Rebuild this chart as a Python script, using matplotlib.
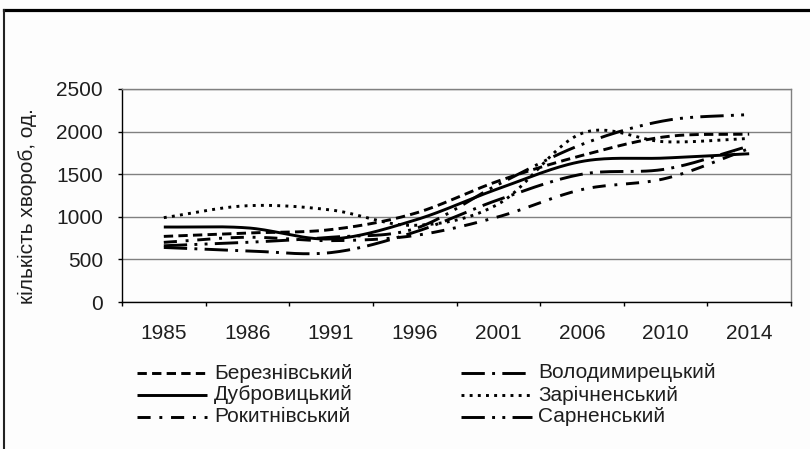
import numpy as np
import matplotlib
matplotlib.use("Agg")
import matplotlib.pyplot as plt
from matplotlib.lines import Line2D

plt.rcParams['font.family'] = ['Liberation Sans', 'DejaVu Sans']

categories = ['1985', '1986', '1991', '1996', '2001', '2006', '2010', '2014']
berezn = [770, 810, 850, 1040, 1420, 1720, 1940, 1970]
volod = [640, 600, 580, 820, 1200, 1500, 1560, 1830]
dubr = [880, 870, 740, 960, 1330, 1650, 1690, 1740]
zarich = [990, 1130, 1080, 900, 1150, 1980, 1880, 1920]
rokyt = [700, 760, 720, 780, 1000, 1320, 1450, 1800]
sarn = [660, 700, 760, 860, 1380, 1850, 2130, 2200]

names = ['Березнівський', 'Володимирецький', 'Дубровицький',
         'Зарічненський', 'Рокитнівський', 'Сарненський']
series = [berezn, volod, dubr, zarich, rokyt, sarn]
styles = [(0, (3.2, 1.8)),
          (0, (8, 2.5, 1, 2.5)),
          '-',
          (0, (1, 1.8)),
          (0, (4.5, 3, 1, 3)),
          (0, (8, 2.5, 1, 2.5, 1, 2.5))]

FS = 15
TXT = '#1e1e1e'
LW = 2.1

W, H = 810, 449
fig = plt.figure(figsize=(W / 100, H / 100), dpi=100)
fig.patch.set_facecolor('#fdfdfd')


def fx(px):
    return px / W


def fy(py):
    return 1 - py / H


ax = fig.add_axes([fx(122), fy(302), (791 - 122) / W, (302 - 89) / H])
ax.set_facecolor('#fdfdfd')


def smooth(vals, n=30):
    v = np.asarray(vals, dtype=float)
    k = len(v)
    m = np.zeros(k)
    m[1:-1] = (v[2:] - v[:-2]) / 2
    m[0] = v[1] - v[0]
    m[-1] = v[-1] - v[-2]
    xs, ys = [], []
    for i in range(k - 1):
        t = np.linspace(0, 1, n, endpoint=(i == k - 2))
        h00 = 2 * t**3 - 3 * t**2 + 1
        h10 = t**3 - 2 * t**2 + t
        h01 = -2 * t**3 + 3 * t**2
        h11 = t**3 - t**2
        xs.append(i + t)
        ys.append(h00 * v[i] + h10 * m[i] + h01 * v[i + 1] + h11 * m[i + 1])
    return np.concatenate(xs), np.concatenate(ys)


for vals, st, nm in zip(series, styles, names):
    xs, ys = smooth(vals)
    ax.plot(xs, ys, color='black', lw=LW, linestyle=st,
            dash_capstyle='butt', solid_capstyle='butt', label=nm)

ax.set_xlim(-0.5, len(categories) - 0.5)
ax.set_ylim(0, 2500)
ax.set_yticks(np.arange(0, 2501, 500))
ax.yaxis.grid(True, color='#808080', lw=1.0)
ax.set_axisbelow(True)

ax.set_xticks(np.arange(-0.5, len(categories), 1.0))
ax.set_xticklabels([])
ax.set_xticks(np.arange(len(categories)), minor=True)
ax.set_xticklabels(categories, minor=True)
ax.tick_params(axis='x', which='major', length=3, width=1, color='black', direction='out')
ax.tick_params(axis='x', which='minor', length=0, pad=15.5, labelsize=FS, labelcolor=TXT)
ax.tick_params(axis='y', length=3, width=1, color='black', direction='out', pad=10.6,
               labelsize=FS, labelcolor=TXT)

for s in ['top', 'right']:
    ax.spines[s].set_color('#808080')
    ax.spines[s].set_linewidth(1.0)
for s in ['left', 'bottom']:
    ax.spines[s].set_color('black')
    ax.spines[s].set_linewidth(1.0)

ax.set_ylabel('кількість хвороб, од.', fontsize=FS, color=TXT)
ax.yaxis.set_label_coords((37 - 122) / 669, (302 - 206) / 213)

# legend (manual layout)
rows = [373, 395, 417]
cols = [(137, 207, 214), (461, 532, 538)]
for i, (st, nm) in enumerate(zip(styles, names)):
    c = cols[i % 2]
    r = rows[i // 2]
    fig.add_artist(Line2D([fx(c[0]), fx(c[1])], [fy(r), fy(r)], transform=fig.transFigure,
                          color='black', lw=LW, linestyle=st,
                          dash_capstyle='butt', solid_capstyle='butt'))
    fig.text(fx(c[2]), fy(r), nm, fontsize=FS, color=TXT, ha='left', va='center')

# outer frame
fig.add_artist(Line2D([fx(4), 1], [fy(9.5), fy(9.5)], transform=fig.transFigure,
                      color='black', lw=2.3))
fig.add_artist(Line2D([fx(4), fx(4)], [fy(9.5), 0], transform=fig.transFigure,
                      color='#222222', lw=1.5))

fig.savefig('out.png', dpi=100, facecolor=fig.get_facecolor())
